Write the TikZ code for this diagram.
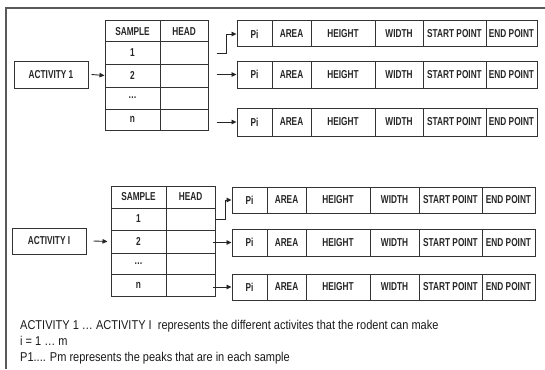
\documentclass[tikz,border=0pt]{standalone}
\usepackage{fontspec}
\setmainfont{Liberation Sans}
\newfontfamily\cellfont{Liberation Sans}[FakeStretch=0.72]
\newfontfamily\legendfont{Liberation Sans}[FakeStretch=0.86]
\usetikzlibrary{arrows.meta}
% a box given by its corners: name, x1, y1, x2, y2, text
\newcommand\boxat[6]{%
  \node[cell, minimum width={(#4-#2)*1pt}, minimum height={(#5-#3)*1pt}]
    (#1) at ({(#2+#4)/2},{(#3+#5)/2}) {#6};}
% one peak record: prefix, y1, y2, list x1/x2/text
\newcommand\peakrow[4]{%
  \foreach \a/\b/\t [count=\i] in {#4} {\boxat{#1-\i}{\a}{#2}{\b}{#3}{\t}}}
\begin{document}
\begin{tikzpicture}[x=1pt,y=-1pt,
  cell/.style={draw=black!80, line width=1pt, inner sep=0pt,
    font=\cellfont\bfseries\fontsize{11.5}{12}\selectfont, text=black!85},
  arr/.style={draw=black!85, line width=0.9pt, -{Triangle[length=5pt,width=4.5pt]}},
  frame/.style={draw=black!65, line width=1.6pt},
  note/.style={anchor=base west, inner sep=0pt, text=black!90,
    font=\legendfont\fontsize{12.8}{14}\selectfont}]
\useasboundingbox (0,0) rectangle (545,369);
\draw[frame] (545,8) -- (6,8) -- (6,369);

% ---- activity 1 ----
\boxat{act1}{14}{61}{88}{88}{ACTIVITY 1}
\boxat{A-s0}{105}{21}{160}{42}{SAMPLE}
\boxat{A-h0}{160}{21}{208}{42}{HEAD}
\boxat{A-s1}{105}{42}{160}{64}{1}
\boxat{A-h1}{160}{42}{208}{64}{}
\boxat{A-s2}{105}{64}{160}{87}{2}
\boxat{A-h2}{160}{64}{208}{87}{}
\boxat{A-s3}{105}{87}{160}{109}{\ldots}
\boxat{A-h3}{160}{87}{208}{109}{}
\boxat{A-s4}{105}{109}{160}{130}{n}
\boxat{A-h4}{160}{109}{208}{130}{}
\peakrow{A-r1}{21}{47}{237/272/Pi, 272/311/AREA, 311/375/HEIGHT, 375/423/WIDTH, 423/486/START POINT, 486/537/END POINT}
\peakrow{A-r2}{61}{88}{237/272/Pi, 272/311/AREA, 311/375/HEIGHT, 375/423/WIDTH, 423/486/START POINT, 486/537/END POINT}
\peakrow{A-r3}{108}{136}{237/272/Pi, 272/311/AREA, 311/375/HEIGHT, 375/423/WIDTH, 423/486/START POINT, 486/537/END POINT}

\draw[arr] ([xshift=3pt]act1.east) -- (A-s2.west);
\draw[arr] ([xshift=8pt]A-h1.east) -- ++(10,0) |- (A-r1-1.west);
\draw[arr] ([xshift=8pt]A-h2.east |- A-r2-1.west) -- (A-r2-1.west);
\draw[arr] ([xshift=8pt]A-h4.east |- A-r3-1.west) -- (A-r3-1.west);

% ---- activity I ----
\boxat{actI}{12}{228}{86}{254}{ACTIVITY I}
\boxat{B-s0}{111}{186}{166}{208}{SAMPLE}
\boxat{B-h0}{166}{186}{215}{208}{HEAD}
\boxat{B-s1}{111}{208}{166}{230}{1}
\boxat{B-h1}{166}{208}{215}{230}{}
\boxat{B-s2}{111}{230}{166}{253}{2}
\boxat{B-h2}{166}{230}{215}{253}{}
\boxat{B-s3}{111}{253}{166}{274}{\ldots}
\boxat{B-h3}{166}{253}{215}{274}{}
\boxat{B-s4}{111}{274}{166}{296}{n}
\boxat{B-h4}{166}{274}{215}{296}{}
\peakrow{B-r1}{187}{213}{232/267/Pi, 267/306/AREA, 306/370/HEIGHT, 370/419/WIDTH, 419/482/START POINT, 482/535/END POINT}
\peakrow{B-r2}{229}{256}{232/267/Pi, 267/306/AREA, 306/370/HEIGHT, 370/419/WIDTH, 419/482/START POINT, 482/535/END POINT}
\peakrow{B-r3}{274}{300}{232/267/Pi, 267/306/AREA, 306/370/HEIGHT, 370/419/WIDTH, 419/482/START POINT, 482/535/END POINT}

\draw[arr] ([xshift=7pt]actI.east) -- ([xshift=-3pt]B-s2.west);
\draw[arr] (B-h1.east) -- ++(10,0) |- (B-r1-1.west);
\draw[arr] ([xshift=-3pt]B-h2.east |- B-r2-1.west) -- (B-r2-1.west);
\draw[arr] ([xshift=-3pt]B-h4.east |- B-r3-1.west) -- (B-r3-1.west);

% ---- legend ----
\node[note] (l1) at (20,329)
  {ACTIVITY 1 \ldots\ ACTIVITY I\ \ represents the different activites that the rodent can make};
\node[note] (l2) at (20,345) {i = 1 \ldots\ m};
\node[note] (l3) at (20,361) {P1.... Pm represents the peaks that are in each sample};
\end{tikzpicture}
\end{document}
